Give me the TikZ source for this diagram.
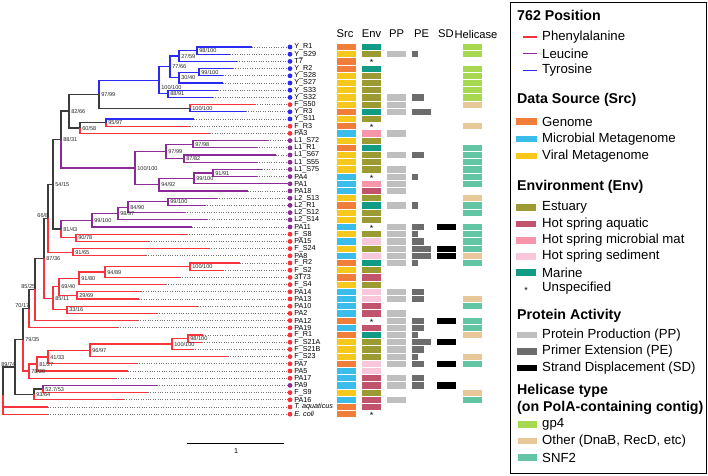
\documentclass[tikz,border=0pt]{standalone}
\usepackage{fontspec}
\setmainfont{Liberation Sans}
\usepackage{xcolor}
\definecolor{phe}{HTML}{F8333B}
\definecolor{leu}{HTML}{8C2A97}
\definecolor{tyr}{HTML}{2A2AF2}
\definecolor{trunk}{HTML}{3C3C3C}
\definecolor{gen}{HTML}{F07E3A}
\definecolor{mic}{HTML}{3BBDEB}
\definecolor{vir}{HTML}{F6C81C}
\definecolor{est}{HTML}{9C9A33}
\definecolor{aqu}{HTML}{C1546C}
\definecolor{mat}{HTML}{F796AA}
\definecolor{sed}{HTML}{F9C7DB}
\definecolor{mar}{HTML}{119B85}
\definecolor{ppc}{HTML}{BFBFBF}
\definecolor{pec}{HTML}{6C6C6C}
\definecolor{sdc}{HTML}{000000}
\definecolor{gpf}{HTML}{A6D94F}
\definecolor{oth}{HTML}{E8C898}
\definecolor{snf}{HTML}{62C6A4}
\usepackage{tikz}
\usetikzlibrary{positioning}

\begin{document}
\begin{tikzpicture}[x=1pt,y=-1pt,
  br/.style={line width=1.25pt},
  dotl/.style={draw=black!55,line width=0.7pt,dash pattern=on 0.5pt off 1.9pt},
  leafdot/.style={circle,inner sep=0pt,minimum size=4.8pt},
  leaf/.style={font=\fontsize{7.2}{8}\selectfont,inner sep=0.4pt,anchor=west},
  bs/.style={font=\fontsize{5.6}{6}\selectfont,text=black!85,inner sep=0.5pt,anchor=west,xshift=1.6pt},
  bsl/.style={bs,anchor=south east,xshift=-0.6pt},
  colhead/.style={font=\fontsize{11.2}{12}\selectfont,inner sep=0pt},
  lghead/.style={font=\fontsize{14.2}{16}\selectfont\bfseries,anchor=west,inner sep=0pt},
  lgtext/.style={font=\fontsize{13.2}{15}\selectfont,anchor=west,inner sep=0pt},
  lgline/.style={line width=1.6pt},
  unspec/.style={font=\fontsize{9}{9}\selectfont,inner sep=0pt}
]
\useasboundingbox (0,0) rectangle (708,475);

% tree nodes (x, mid of children)
\foreach \n/\x/\y in {a1/197/50.6, a2/179/56, a4/199/72.2, a5/179/77.6, a3/170/66.8,
  a6/168/93.8, a7/159/80.3, a8/190/108.2, a9/99/94.25, a10/106/122.6, a11/80/128,
  b1/69/111.1, c1/193/144.2, c2/184/158.6, c3/166/151.4, c4/213/173, c5/194/178.4,
  c6/159/184.7, c7/135/168.05, b2/61/139.6, d1/168/201.8, d2/128/207.2, d3/118/213.5,
  d4/92/220.25, d5/76/237.8, d6/61/229, b3/53/184.3, e1/73/252.2, b4/48/218.25,
  f1/190/266.6, f2/105/272, f3/79/278.3, f4/77/295.4, f5/59/286.85, f6/67/309.8,
  f7/53/298.3, b5/44/258.3, b6/35/289.45, b7/29/308.6, g1/188/338.6, g2/172/344,
  g3/90/350.3, g4/48/357.05, g5/37/364, g6/29/371.1, b8/23/339.85, h1/43/389,
  h2/34/394.4, b9/15/367.1, root/3/395}
  \coordinate (\n) at (\x,\y);

% internal branches
\foreach \p/\n/\c in {a2/a1/tyr, a3/a2/tyr, a5/a4/tyr, a3/a5/tyr, a7/a3/tyr, a7/a6/tyr,
  a9/a7/tyr, a9/a8/trunk, b1/a9/trunk, a11/a10/trunk, b1/a11/trunk, b2/b1/trunk,
  c3/c1/leu, c3/c2/leu, c7/c3/leu, c5/c4/leu, c6/c5/leu, c7/c6/leu, b2/c7/leu,
  b3/b2/trunk, d2/d1/leu, d3/d2/leu, d4/d3/leu, d6/d4/leu, d6/d5/phe, b3/d6/trunk,
  b4/b3/trunk, b4/e1/phe, b5/b4/trunk, f2/f1/phe, f3/f2/phe, f5/f3/phe, f5/f4/phe,
  f7/f5/phe, f7/f6/phe, b5/f7/phe, b6/b5/trunk, b7/b6/trunk, b8/b7/trunk,
  g2/g1/phe, g3/g2/phe, g4/g3/phe, g5/g4/phe, g6/g5/phe, b8/g6/phe, b9/b8/trunk,
  h2/h1/trunk, b9/h2/trunk, root/b9/trunk}
  \draw[br,draw=\c] (\p) |- (\n);

% leaves: row / label / branch end / colour / parent
\foreach \i/\lab/\xe/\c/\p in {0/Y\_R1/252/tyr/a1, 1/Y\_S29/230/tyr/a1, 2/T7/237/tyr/a2,
  3/Y\_R2/233/tyr/a4, 4/Y\_S28/223/tyr/a4, 5/Y\_S27/223/tyr/a5, 6/Y\_S33/218/tyr/a6,
  7/Y\_S32/213/tyr/a6, 8/F\_S50/255/phe/a8, 9/Y\_R3/246/tyr/a8, 10/Y\_S11/194/tyr/a10,
  11/F\_R3/190/phe/a10, 12/PA3/210/phe/a11, 13/L1\_S72/268/leu/c1, 14/L1\_R1/257/leu/c1,
  15/L1\_S67/276/leu/c2, 16/L1\_S55/257/leu/c2, 17/L1\_S75/262/leu/c4, 18/PA4/257/leu/c4,
  19/PA1/288/leu/c5, 20/PA18/248/leu/c6, 21/L2\_S13/217/leu/d1, 22/L2\_R1/205/leu/d1,
  23/L2\_S12/185/leu/d2, 24/L2\_S14/207/leu/d3, 25/PA11/192/leu/d4, 26/F\_S8/187/phe/d5,
  27/PA15/149/phe/d5, 28/F\_S24/209/phe/e1, 29/PA8/146/phe/e1, 30/F\_R2/240/phe/f1,
  31/F\_S2/223/phe/f1, 32/3T73/180/phe/f2, 33/F\_S4/166/phe/f3, 34/PA14/141/phe/f4,
  35/PA13/139/phe/f4, 36/PA10/198/phe/f6, 37/PA2/157/phe/f6, 38/PA12/138/phe/b6,
  39/PA19/118/phe/b7, 40/F\_R1/203/phe/g1, 41/F\_S21A/202/phe/g1, 42/F\_S21B/193/phe/g2,
  43/F\_S23/228/phe/g3, 44/PA7/137/phe/g4, 45/PA5/128/phe/g5, 46/PA17/116/phe/g6,
  47/PA9/157/leu/h1, 48/F\_S9/148/phe/h1, 49/PA16/124/phe/h2,
  50/{\itshape T. aquaticus}/48/phe/root, 51/{\itshape E. coli}/48/phe/root}
{
  \pgfmathsetmacro\yy{47+7.2*\i}
  \coordinate (end\i) at (\xe,\yy);
  \node[leafdot,fill=\c] (dot\i) at (290,\yy) {};
  \draw[dotl] (end\i) -- (dot\i);
  \draw[br,draw=\c] (\p) |- (end\i);
  \node[leaf,right=1.2pt of dot\i] (lab\i) {\lab};
}

% support values
\foreach \n/\t in {a1/{98/100}, a2/{27/59}, a4/{99/100}, a5/{30/40}, a3/{77/66},
  a6/{88/91}, a8/{100/100}, a9/{97/99}, a10/{95/97}, a11/{60/58}, b1/{82/66},
  c1/{97/98}, c2/{87/82}, c3/{97/99}, c4/{91/91}, c5/{99/100}, c6/{94/92},
  c7/{100/100}, b2/{88/31}, d1/{99/100}, d2/{84/90}, d3/{98/97}, d4/{99/100},
  d5/{90/78}, d6/{81/43}, b3/{54/15}, e1/{91/65}, f1/{100/100}, f2/{94/89},
  f3/{91/80}, f4/{29/69}, f5/{69/40}, f6/{33/16}, f7/{85/11}, b5/{87/36},
  g1/{98/100}, g2/{100/100}, g3/{96/97}, g4/{41/33}, g5/{81/27}, g6/{78/20},
  b8/{79/35}, h1/{52.7/53}, h2/{93/64}}
  \node[bs] (s\n) at (\n) {\t};
\node[bs] (sa7) at (159,87) {100/100};
\node[bsl] (sb4) at (b4) {66/8};
\node[bsl] (sb6) at (b6) {85/25};
\node[bsl] (sb7) at (b7) {70/17};
\node[bsl] (sb9) at (b9) {89/74};

% scale bar
\coordinate (sc1) at (187,443);
\coordinate (sc2) at (284,443);
\draw[line width=0.9pt] (sc1) -- (sc2);
\node[font=\fontsize{7.2}{8}\selectfont,anchor=north] (scl) at (236,444.5) {1};

% column heads
\foreach \x/\t in {345/Src, 371.5/Env, 396.5/PP, 421.5/PE, 446/SD, 476/Helicase}
  \node[colhead] (col\t) at (\x,34) {\t};

% Src
\foreach \c [count=\i from 0] in {gen,vir,gen,gen,vir,vir,vir,vir,vir,gen,vir,gen,mic,
  vir,gen,vir,vir,vir,mic,mic,mic,vir,gen,vir,vir,mic,vir,mic,vir,mic,gen,vir,gen,vir,
  mic,mic,mic,mic,gen,mic,gen,vir,vir,vir,gen,mic,mic,mic,vir,mic,gen,gen}
  \fill[fill=\c] (337,{47+7.2*\i-3.1}) rectangle ++(19,6.2);

% Env
\foreach \c [count=\i from 0] in {mar,est,none,mar,est,est,est,est,est,mar,est,none,mat,
  est,mar,est,est,est,none,mat,aqu,est,mar,est,est,none,est,sed,est,sed,mar,est,aqu,est,
  sed,sed,aqu,aqu,none,aqu,mar,est,est,est,sed,sed,aqu,aqu,est,aqu,aqu,none}
  \fill[fill=\c] (362,{47+7.2*\i-3.1}) rectangle ++(19,6.2);
\foreach \r in {2,11,18,25,38,51}
  \node[unspec] (u\r) at (371.5,{47+7.2*\r+1.4}) {*};

% protein production
\foreach \r in {1,7,8,9,12,15,17,18,19,20,22,25,26,27,28,29,30,34,35,37,38,39,40,41,42,
  43,44,46,47,49}
  \fill[ppc] (387,{47+7.2*\r-3.1}) rectangle ++(19,6.2);

% primer extension
\foreach \r/\w in {1/6,7/12,9/19,15/12,18/6,22/6,25/12,26/6,27/12,28/19,29/19,30/6,
  34/12,35/12,38/12,39/12,40/6,41/19,42/12,43/6,44/12,46/12,47/12}
  \fill[pec] (412,{47+7.2*\r-3.1}) rectangle ++(\w,6.2);

% strand displacement
\foreach \r in {25,28,29,38,41,44,47}
  \fill[sdc] (437,{47+7.2*\r-3.1}) rectangle ++(18.5,6.2);

% helicase
\foreach \r/\c in {0/gpf,1/gpf,3/gpf,4/gpf,5/gpf,6/gpf,7/gpf,8/oth,11/oth,14/snf,15/snf,
  16/snf,17/snf,18/snf,19/snf,21/oth,22/snf,23/snf,25/snf,26/snf,27/snf,28/snf,29/oth,
  30/snf,35/oth,36/snf,38/snf,39/snf,40/oth,43/oth,44/snf,48/oth,49/snf}
  \fill[fill=\c] (463,{47+7.2*\r-3.1}) rectangle ++(18.5,6.2);

% legend
\draw[line width=0.8pt] (510,2) rectangle (706,473);
\node[lghead] (gpos) at (517,15) {762 Position};
\foreach \y/\c/\t in {37/phe/Phenylalanine, 53.5/leu/Leucine, 70.5/tyr/Tyrosine}
{
  \draw[lgline,draw=\c] (523,\y) -- (537,\y);
  \node[lgtext] (k\t) at (542,\y) {\t};
}
\node[lghead] (gsrc) at (517,100) {Data Source (Src)};
\foreach \y/\c/\t in {121.5/gen/Genome, 139/mic/Microbial Metagenome, 156/vir/Viral Metagenome}
{
  \fill[fill=\c] (516,\y-3.2) rectangle ++(21,6.4);
  \node[lgtext] at (542,\y) {\t};
}
\node[lghead] (genv) at (517,187) {Environment (Env)};
\foreach \y/\c/\t in {207.5/est/Estuary, 224/aqu/Hot spring aquatic,
  240.5/mat/Hot spring microbial mat, 256.5/sed/Hot spring sediment, 272.5/mar/Marine}
{
  \fill[fill=\c] (516,\y-3.2) rectangle ++(20,6.4);
  \node[lgtext] at (542,\y) {\t};
}
\node[unspec] (kun) at (526,290) {*};
\node[lgtext] (tun) at (542,288.5) {Unspecified};
\node[lghead] (gact) at (517,316) {Protein Activity};
\foreach \y/\c/\t in {335/ppc/Protein Production (PP), 351.5/pec/Primer Extension (PE),
  368/sdc/Strand Displacement (SD)}
{
  \fill[fill=\c] (517,\y-3.2) rectangle ++(20,6.4);
  \node[lgtext] at (542,\y) {\t};
}
\node[lghead] (ghel) at (517,390.5) {Helicase type};
\node[lghead] (ghel2) at (517,408) {(on PolA-containing contig)};
\foreach \y/\c/\t in {424.5/gpf/gp4, 441/oth/{Other (DnaB, RecD, etc)}, 457.5/snf/SNF2}
{
  \fill[fill=\c] (518,\y-3.2) rectangle ++(19,6.4);
  \node[lgtext] at (542,\y) {\t};
}
\end{tikzpicture}
\end{document}
